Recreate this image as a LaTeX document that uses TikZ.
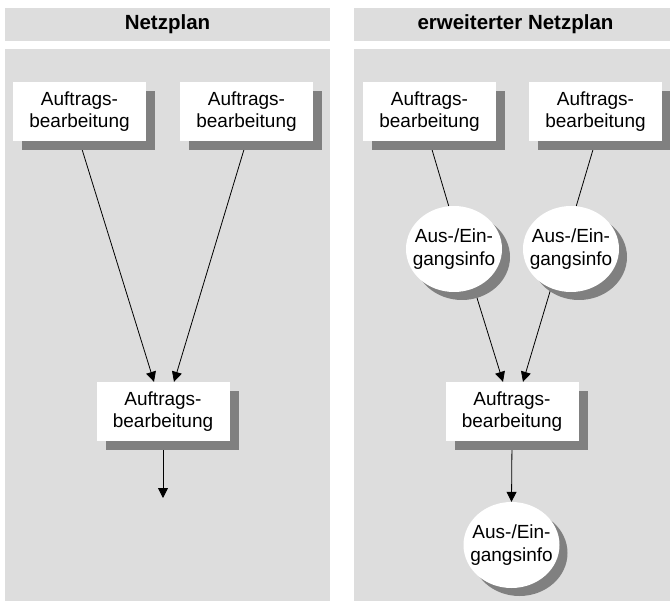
\documentclass[tikz,border=0pt]{standalone}
\usepackage{fontspec}
\setmainfont{Liberation Sans}
\usetikzlibrary{arrows.meta,shadows,shapes.geometric}
\definecolor{panelgray}{RGB}{221,221,221}
\definecolor{shadowgray}{RGB}{128,128,128}
\pgfdeclarelayer{panels}
\pgfdeclarelayer{links}
\pgfsetlayers{panels,links,main}
\newcommand{\boxfont}{\fontsize{19}{22.5}\selectfont}
\newcommand{\headfont}{\fontsize{20.5}{24}\selectfont\bfseries}
\tikzset{
  taskbox/.style={rectangle, fill=white, minimum width=133pt, minimum height=59pt,
    inner sep=0pt, align=center, font=\boxfont,
    drop shadow={shadow xshift=9pt, shadow yshift=-9pt, fill=shadowgray, opacity=1}},
  infobubble/.style={ellipse, fill=white, minimum width=96pt, minimum height=86pt,
    inner xsep=-10pt, inner ysep=0pt, align=center, font=\boxfont,
    drop shadow={shadow xshift=8pt, shadow yshift=-8pt, fill=shadowgray, opacity=1}},
  headbar/.style={rectangle, fill=panelgray, inner sep=0pt, minimum height=33pt},
  headtext/.style={font=\headfont, inner sep=0pt},
  link/.style={line width=0.8pt},
  flow/.style={line width=0.8pt, -{Triangle[length=10pt,width=10pt]}}
}
\begin{document}
\begin{tikzpicture}[x=1pt,y=-1pt]
\useasboundingbox (0,0) rectangle (670,604);

% panel bodies and header bars
\begin{pgfonlayer}{panels}
  \fill[panelgray] (5,49) rectangle (330,601);
  \fill[panelgray] (354,49) rectangle (670,601);
\end{pgfonlayer}
\node[headbar, minimum width=325pt] (hl) at (167.5,24.5) {};
\node[headbar, minimum width=316pt] (hr) at (512,24.5) {};
\node[headtext] (tl) at (167.5,24.5) {Netzplan};
\node[headtext] (tr) at (515.5,24.5) {erweiterter Netzplan};

% Netzplan
\node[taskbox] (l1) at (79.5,111.5) {Auftrags-\\bearbeitung};
\node[taskbox] (l2) at (246.5,111.5) {Auftrags-\\bearbeitung};
\node[taskbox] (l3) at (163,411.5) {Auftrags-\\bearbeitung};
\coordinate (l3a) at ([xshift=-9pt]l3.north);
\coordinate (l3b) at ([xshift=11pt]l3.north);
\coordinate (lend) at (163,498);

% erweiterter Netzplan
\node[taskbox] (r1) at (429.5,111.5) {Auftrags-\\bearbeitung};
\node[taskbox] (r2) at (595.5,111.5) {Auftrags-\\bearbeitung};
\node[infobubble] (c1) at (454,249) {Aus-/Ein-\\gangsinfo};
\node[infobubble] (c2) at (571,249) {Aus-/Ein-\\gangsinfo};
\node[taskbox] (r3) at (512,411.5) {Auftrags-\\bearbeitung};
\node[infobubble] (c3) at (511.5,545) {Aus-/Ein-\\gangsinfo};
\coordinate (r3a) at ([xshift=-9pt]r3.north);
\coordinate (r3b) at ([xshift=11pt]r3.north);

% connectors, kept beneath the nodes and their shadows
\begin{pgfonlayer}{links}
  \draw[flow] (l1.south) -- (l3a);
  \draw[flow] (l2.south) -- (l3b);
  \draw[flow] (l3.south) -- (lend);
  \draw[link] (r1.south) -- (c1.97);
  \draw[flow] (c1.-63) -- (r3a);
  \draw[link] (r2.south) -- (c2.83);
  \draw[flow] (c2.-117) -- (r3b);
  \draw[flow] (r3.south) -- (c3.north);
\end{pgfonlayer}
\end{tikzpicture}
\end{document}
